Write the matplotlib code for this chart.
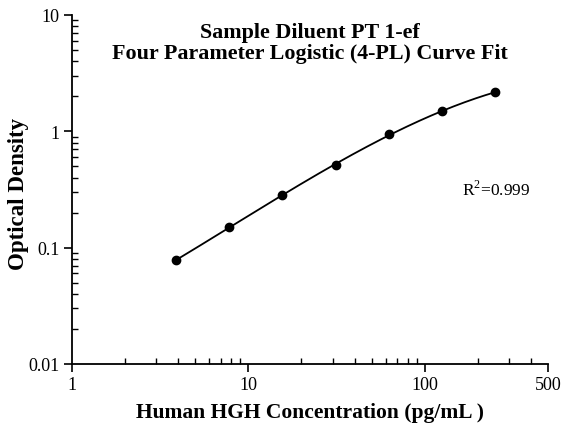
import numpy as np
import matplotlib
matplotlib.use("Agg")
import matplotlib.pyplot as plt
from matplotlib.ticker import LogLocator, NullFormatter, FixedLocator, FixedFormatter

# standard concentrations (pg/mL) and optical density
conc = [3.9, 7.8, 15.6, 31.25, 62.5, 125, 250]
od = [0.078, 0.151, 0.283, 0.513, 0.942, 1.486, 2.165]

xticks = [1, 10, 100, 500]
xtick_labels = ["1", "10", "100", "500"]
yticks = [0.01, 0.1, 1, 10]
ytick_labels = ["0.01", "0.1", "1", "10"]

plt.rcParams['font.family'] = ['Liberation Serif', 'DejaVu Serif']
plt.rcParams['mathtext.fontset'] = 'custom'
plt.rcParams['mathtext.rm'] = 'Liberation Serif'

fig = plt.figure(figsize=(5.65, 4.35), dpi=100)
ax = fig.add_axes([72/565, 1-365/435, (548-72)/565, (365-16)/435])

# smooth fit curve in log-log space
lx = np.log10(conc)
ly = np.log10(od)
p = np.polyfit(lx, ly, 3)
xs = np.linspace(lx[0], lx[-1], 200)
ax.plot(10**xs, 10**np.polyval(p, xs), color='black', lw=1.3)
ax.plot(conc, od, 'o', color='black', ms=6)

ax.set_xscale('log')
ax.set_yscale('log')
ax.set_xlim(1, 500)
ax.set_ylim(0.01, 10)

ax.xaxis.set_major_locator(FixedLocator(xticks))
ax.xaxis.set_major_formatter(FixedFormatter(xtick_labels))
ax.yaxis.set_major_locator(FixedLocator(yticks))
ax.yaxis.set_major_formatter(FixedFormatter(ytick_labels))
ax.xaxis.set_minor_locator(LogLocator(base=10, subs=np.arange(2, 10)))
ax.yaxis.set_minor_locator(LogLocator(base=10, subs=np.arange(2, 10)))
ax.xaxis.set_minor_formatter(NullFormatter())
ax.yaxis.set_minor_formatter(NullFormatter())

ax.tick_params(which='major', direction='out', length=6, width=1.2, labelsize=13, pad=3)
ax.tick_params(which='minor', direction='in', length=4, width=1.0)

for s in ['top', 'right']:
    ax.spines[s].set_visible(False)
for s in ['left', 'bottom']:
    ax.spines[s].set_linewidth(1.3)

ax.text(0.5, 0.98, "Sample Diluent PT 1-ef\nFour Parameter Logistic (4-PL) Curve Fit",
        transform=ax.transAxes, ha='center', va='top', fontsize=15.8,
        fontweight='bold', linespacing=1.1)
ax.text(0.82, 0.5, r"R$^2$=0.999", transform=ax.transAxes, ha='left', va='center',
        fontsize=12.5)

fig.text(19/565, 1-194/435, "Optical Density", rotation=90, ha='center', va='center',
         fontsize=16.5, fontweight='bold')
fig.text(310/565, 1-413/435, "Human HGH Concentration (pg/mL )", ha='center', va='center',
         fontsize=15.5, fontweight='bold')

fig.savefig("out.png", dpi=100)
